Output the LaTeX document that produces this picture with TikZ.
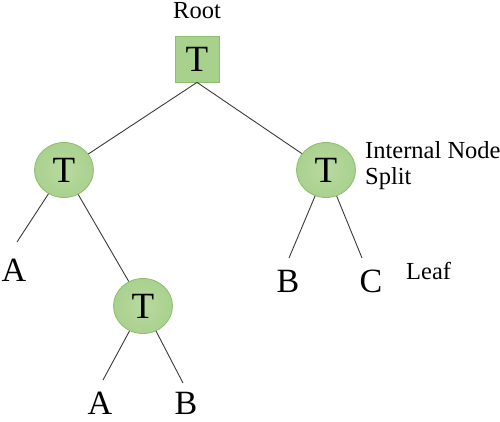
\documentclass[tikz,border=0pt]{standalone}
\usepackage{fontspec}
\setmainfont{Liberation Serif}
\usetikzlibrary{shapes.geometric}
\definecolor{gfill}{HTML}{A9D18E}
\definecolor{gin}{HTML}{B8DAA0}
\definecolor{gedge}{HTML}{8DBF6E}
\definecolor{lnc}{HTML}{3A3A3A}
\tikzset{
  rootbox/.style={draw=gedge, fill=gfill, line width=0.8pt, minimum width=44pt, minimum height=46pt, inner sep=0pt, font=\fontsize{37}{37}\selectfont},
  tnode/.style={ellipse, draw=gedge, line width=0.8pt, inner color=gin, outer color=gfill, minimum width=59pt, minimum height=55pt, inner sep=0pt, font=\fontsize{37}{37}\selectfont},
  leafl/.style={inner sep=0pt, font=\fontsize{34}{34}\selectfont},
  lbl/.style={inner sep=0pt, font=\fontsize{24.5}{26}\selectfont},
  edge/.style={draw=lnc, line width=0.9pt}
}
\begin{document}
\begin{tikzpicture}[x=1pt,y=-1pt]
\useasboundingbox (0,0) rectangle (500,422);
\node[lbl, anchor=base] (rootl) at (197,19) {Root};
\node[rootbox] (r) at (197,59) {T};
\node[tnode] (l) at (64,170) {T};
\node[tnode] (rt) at (326,170) {T};
\node[tnode] (b) at (143,306) {T};
\coordinate (aL) at (17,242);
\node[leafl] (A1) at (14,270) {A};
\coordinate (aBA) at (103,380);
\node[leafl] (A2) at (100,403) {A};
\coordinate (aBB) at (183,383);
\node[leafl] (B2) at (186,403) {B};
\coordinate (aRB) at (289,258);
\node[leafl] (B1) at (288,281) {B};
\coordinate (aRC) at (362,258);
\node[leafl] (C1) at (371,281) {C};
\node[lbl, anchor=base west] (inl) at (365,159) {Internal Node};
\node[lbl, anchor=base west] (spl) at (365,185) {Split};
\node[lbl, anchor=base west] (leafl) at (406,279) {Leaf};
\draw[edge] (r.south) -- (l);
\draw[edge] (r.south) -- (rt);
\draw[edge] (l) -- (aL);
\draw[edge] (l) -- (b);
\draw[edge] (b) -- (aBA);
\draw[edge] (b) -- (aBB);
\draw[edge] (rt) -- (aRB);
\draw[edge] (rt) -- (aRC);
\end{tikzpicture}
\end{document}
